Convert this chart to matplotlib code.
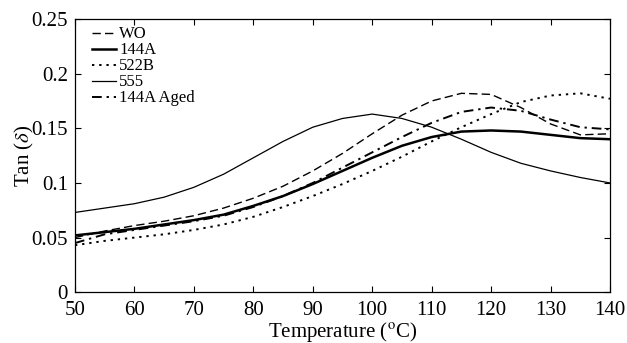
import numpy as np
import matplotlib.pyplot as plt

plt.rcParams["font.family"] = ["Liberation Serif", "DejaVu Serif"]
plt.rcParams["mathtext.fontset"] = "stix"

# 温度 (°C)
temps = [50, 55, 60, 65, 70, 75, 80, 85, 90, 95, 100, 105, 110, 115, 120, 125, 130, 135, 140]

# 各样品的 Tan(δ)
tan_wo = [0.050, 0.056, 0.061, 0.065, 0.070, 0.077, 0.086, 0.097, 0.111, 0.127,
          0.145, 0.162, 0.175, 0.182, 0.181, 0.169, 0.154, 0.144, 0.145]
tan_144a = [0.052, 0.055, 0.058, 0.062, 0.066, 0.071, 0.079, 0.088, 0.099, 0.111,
            0.123, 0.134, 0.142, 0.147, 0.148, 0.147, 0.144, 0.141, 0.140]
tan_522b = [0.043, 0.047, 0.050, 0.053, 0.057, 0.062, 0.069, 0.078, 0.088, 0.099,
            0.111, 0.124, 0.138, 0.151, 0.163, 0.174, 0.180, 0.182, 0.177]
tan_555 = [0.073, 0.077, 0.081, 0.087, 0.096, 0.108, 0.123, 0.138, 0.151, 0.159,
           0.163, 0.159, 0.151, 0.140, 0.128, 0.118, 0.111, 0.105, 0.100]
tan_144a_aged = [0.045, 0.053, 0.057, 0.061, 0.065, 0.070, 0.078, 0.088, 0.100, 0.114,
                 0.128, 0.142, 0.155, 0.165, 0.169, 0.166, 0.158, 0.151, 0.149]

labels = ["WO", "144A", "522B", "555", "144A Aged"]

fig = plt.figure(figsize=(6.27, 3.43), dpi=100)
ax = fig.add_axes([0.1196, 0.148, 0.8533, 0.7966])

ax.plot(temps, tan_wo, color="black", lw=1.0, ls=(0, (6, 3)), label=labels[0])
ax.plot(temps, tan_144a, color="black", lw=1.8, ls="-", label=labels[1])
ax.plot(temps, tan_522b, color="black", lw=1.4, ls=(0, (1.2, 2.5)), label=labels[2])
ax.plot(temps, tan_555, color="black", lw=0.9, ls="-", label=labels[3])
ax.plot(temps, tan_144a_aged, color="black", lw=1.4, ls=(0, (5, 2.5, 1.2, 2.5)), label=labels[4])

ax.set_xlim(50, 140)
ax.set_ylim(0, 0.25)
ax.set_xticks(np.arange(50, 141, 10))
ax.set_yticks([0, 0.05, 0.1, 0.15, 0.2, 0.25])
ax.set_yticklabels(["0", "0.05", "0.1", "0.15", "0.2", "0.25"])
ax.tick_params(direction="in", top=True, right=True, length=4, width=0.8, labelsize=15)
ax.tick_params(axis="x", pad=6)
ax.tick_params(axis="y", pad=5)
for s in ax.spines.values():
    s.set_linewidth(0.9)

ax.set_xlabel("Temperature ($^{\\rm o}$C)", fontsize=15, labelpad=0)
ax.set_ylabel("Tan ($\\delta$)", fontsize=15, labelpad=-3)

ax.legend(loc="upper left", frameon=False, fontsize=12, handlelength=1.4,
          handletextpad=0.2, labelspacing=0.0, borderaxespad=0.0,
          bbox_to_anchor=(0.02, 0.997))

plt.savefig("out.png", dpi=100)
